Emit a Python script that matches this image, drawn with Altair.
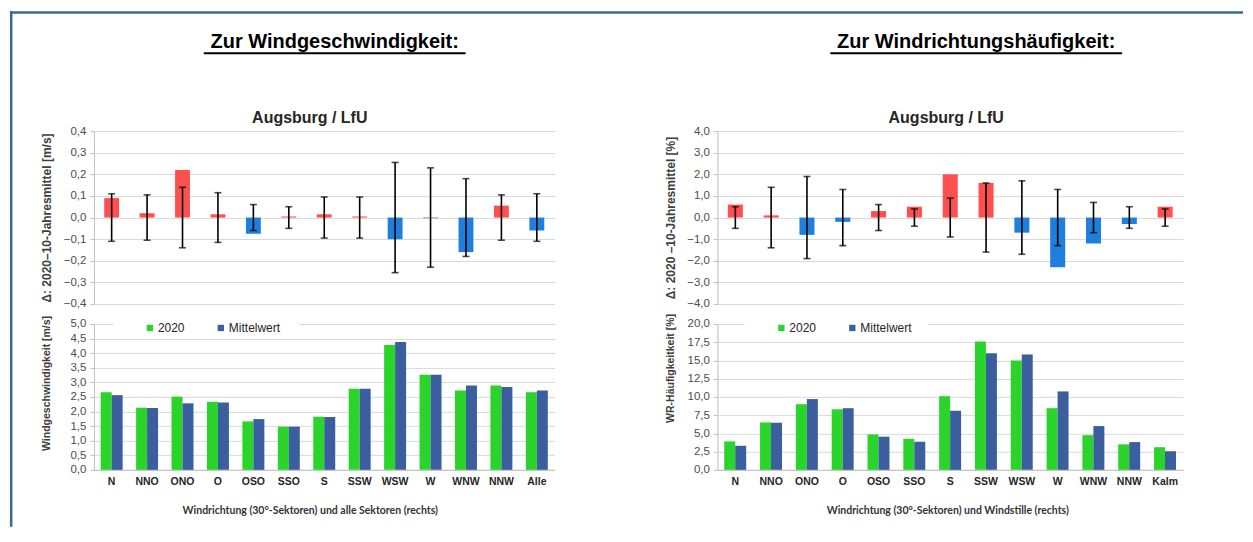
import altair as alt
import pandas as pd

# ---------------- data ----------------
cats_speed = ["N", "NNO", "ONO", "O", "OSO", "SSO", "S", "SSW", "WSW", "W", "WNW", "NNW", "Alle"]
cats_freq = ["N", "NNO", "ONO", "O", "OSO", "SSO", "S", "SSW", "WSW", "W", "WNW", "NNW", "Kalm"]

speed_delta = [0.09, 0.02, 0.22, 0.015, -0.075, 0.005, 0.015, 0.005, -0.10, -0.003, -0.16, 0.055, -0.06]
speed_err = [0.11, 0.105, 0.14, 0.115, 0.06, 0.05, 0.095, 0.095, 0.255, 0.23, 0.18, 0.105, 0.11]
speed_2020 = [2.66, 2.13, 2.51, 2.33, 1.66, 1.48, 1.82, 2.78, 4.28, 3.26, 2.72, 2.89, 2.66]
speed_mean = [2.56, 2.12, 2.28, 2.31, 1.74, 1.48, 1.81, 2.78, 4.38, 3.26, 2.89, 2.84, 2.72]

freq_delta = [0.6, 0.1, -0.8, -0.2, 0.3, 0.5, 2.0, 1.6, -0.7, -2.3, -1.2, -0.3, 0.5]
freq_err = [0.5, 1.4, 1.9, 1.3, 0.6, 0.4, 0.9, 1.6, 1.7, 1.3, 0.7, 0.5, 0.4]
freq_2020 = [3.9, 6.5, 9.0, 8.3, 4.85, 4.25, 10.1, 17.6, 15.0, 8.45, 4.75, 3.5, 3.1]
freq_mean = [3.3, 6.45, 9.7, 8.45, 4.55, 3.85, 8.1, 16.0, 15.8, 10.75, 6.0, 3.8, 2.55]

series = ["2020", "Mittelwert"]

speed_delta_ticks = [-0.4, -0.3, -0.2, -0.1, 0.0, 0.1, 0.2, 0.3, 0.4]
speed_ticks = [0.0, 0.5, 1.0, 1.5, 2.0, 2.5, 3.0, 3.5, 4.0, 4.5, 5.0]
freq_delta_ticks = [-4.0, -3.0, -2.0, -1.0, 0.0, 1.0, 2.0, 3.0, 4.0]
freq_ticks = [0.0, 2.5, 5.0, 7.5, 10.0, 12.5, 15.0, 17.5, 20.0]

# ---------------- style ----------------
FONT = "Liberation Sans"
RED = "#ff5050"
BLUE = "#1f7fdc"
GREEN = "#2bd42b"
NAVY = "#3b5e9e"
GRID = "#d9d9d9"
AXIS = "#bfbfbf"
LBL = "#4d4d4d"
TTL = "#404040"

W_L, W_R = 461, 466
H_TOP, H_BOT = 173, 146
LABEL_EXPR = "replace(format(datum.value, '.1f'), '.', ',')"


def y_axis(values, title, tsize, title_y, title_x=-47):
    return alt.Axis(
        values=values, labelExpr=LABEL_EXPR, title=title, grid=True,
        gridColor=GRID, gridWidth=1, domainColor=AXIS, tickColor=AXIS,
        tickSize=4, labelPadding=4, labelFont=FONT, labelFontSize=11.5,
        labelColor=LBL, titleFont=FONT, titleFontSize=tsize,
        titleFontWeight="bold", titleColor=TTL, titleX=title_x,
        titleY=title_y, titleBaseline="middle", titleAlign="center",
        titleAngle=270,
    )


def text_layer(txt, x, y, size, color="black"):
    return alt.Chart(pd.DataFrame({"t": [txt]})).mark_text(
        font=FONT, fontSize=size, fontWeight="bold", color=color,
        align="center", baseline="middle",
    ).encode(text="t:N", x=alt.value(x), y=alt.value(y))


def hline(x0, x1, y, color, width):
    return alt.Chart(pd.DataFrame({"a": [0]})).mark_rule(
        color=color, strokeWidth=width
    ).encode(x=alt.value(x0), x2=alt.value(x1), y=alt.value(y))


def vline(x, y0, y1, color, width):
    return alt.Chart(pd.DataFrame({"a": [0]})).mark_rule(
        color=color, strokeWidth=width
    ).encode(x=alt.value(x), y=alt.value(y0), y2=alt.value(y1))


def delta_chart(cats, delta, err, dom, ticks, ytitle, width, title_x, extra):
    df = pd.DataFrame({
        "cat": cats, "delta": delta,
        "lo": [-e for e in err], "hi": err,
    })
    x = alt.X("cat:N", sort=cats, axis=None,
              scale=alt.Scale(paddingInner=0.58, paddingOuter=0.29))
    ysc = alt.Scale(domain=dom, nice=False, zero=False)
    yax = y_axis(ticks, ytitle, 12, H_TOP / 2)
    base = alt.Chart(df)
    bars = base.mark_bar().encode(
        x=x,
        y=alt.Y("delta:Q", scale=ysc, axis=yax),
        color=alt.condition("datum.delta >= 0", alt.value(RED), alt.value(BLUE)),
    )
    rules = base.mark_rule(color="black", strokeWidth=1.6).encode(
        x=x, y=alt.Y("lo:Q", scale=ysc, axis=yax), y2="hi:Q")
    cap_hi = base.mark_tick(color="black", thickness=1.6, size=7).encode(
        x=x, y=alt.Y("hi:Q", scale=ysc, axis=yax))
    cap_lo = base.mark_tick(color="black", thickness=1.6, size=7).encode(
        x=x, y=alt.Y("lo:Q", scale=ysc, axis=yax))
    title = text_layer("Augsburg / LfU", title_x, -13, 16, "#262626")
    return alt.layer(*extra, title, bars, rules, cap_hi, cap_lo).properties(
        width=width, height=H_TOP)


def level_chart(cats, v2020, vmean, dom, ticks, ytitle, xtitle, width,
                title_y, xtitle_x, legend_x, mask):
    n = len(cats)
    df = pd.DataFrame({
        "cat": cats * 2,
        "series": [series[0]] * n + [series[1]] * n,
        "value": v2020 + vmean,
    })
    bars = alt.Chart(df).mark_bar().encode(
        x=alt.X("cat:N", sort=cats,
                scale=alt.Scale(paddingInner=0.38, paddingOuter=0.19),
                axis=alt.Axis(
                    title=xtitle, labelAngle=0, ticks=False, labelPadding=7,
                    labelFont=FONT, labelFontSize=10.5, labelFontWeight="bold",
                    labelColor="#262626", domainColor=AXIS,
                    titleFont="Lato", titleFontSize=10.5, titleFontWeight="bold",
                    titleColor="#333333", titleX=xtitle_x, titleY=41,
                    titleBaseline="middle", titleAlign="center")),
        xOffset=alt.XOffset("series:N", sort=series,
                            scale=alt.Scale(paddingInner=0, paddingOuter=0)),
        y=alt.Y("value:Q", scale=alt.Scale(domain=dom, nice=False),
                axis=y_axis(ticks, ytitle, 10.5, title_y)),
        color=alt.Color("series:N", sort=series,
                        scale=alt.Scale(domain=series, range=[GREEN, NAVY]),
                        legend=alt.Legend(
                            orient="none", legendX=legend_x, legendY=-2,
                            direction="horizontal", title=None,
                            symbolType="square", symbolSize=40,
                            symbolStrokeWidth=0, labelFont=FONT,
                            labelFontSize=12, labelColor="#262626",
                            labelOffset=2, columnPadding=30, padding=0)),
    )
    m = alt.Chart(pd.DataFrame({"a": [0]})).mark_rect(color="white").encode(
        x=alt.value(mask[0]), x2=alt.value(mask[1]),
        y=alt.value(-4), y2=alt.value(5))
    return alt.layer(m, bars).properties(width=width, height=H_BOT)


# decorative frame + headers (positions relative to the plot origin)
BORDER = "#3d6a86"
frame = [
    hline(-84, 1150, -118.8, BORDER, 2.5),
    vline(-82.8, -120, 396, BORDER, 2.5),
    text_layer("Zur Windgeschwindigkeit:", 241, -89, 20),
    hline(110, 372, -78, "black", 2),
]
head_r = [
    text_layer("Zur Windrichtungshäufigkeit:", 259, -89, 20),
    hline(113, 405, -78, "black", 2),
]

tl = delta_chart(cats_speed, speed_delta, speed_err, [-0.4, 0.4],
                 speed_delta_ticks, "Δ: 2020–10-Jahresmittel [m/s]", W_L, 216, frame)
tr = delta_chart(cats_freq, freq_delta, freq_err, [-4, 4],
                 freq_delta_ticks, "Δ: 2020 –10-Jahresmittel [%]", W_R, 229, head_r)
bl = level_chart(cats_speed, speed_2020, speed_mean, [0, 5], speed_ticks,
                 "Windgeschwindigkeit [m/s]",
                 "Windrichtung (30°-Sektoren) und alle Sektoren (rechts)",
                 W_L, 59, 216, 50, (20, 205))
br = level_chart(cats_freq, freq_2020, freq_mean, [0, 20], freq_ticks,
                 "WR-Häufigkeitkeit [%]",
                 "Windrichtung (30°-Sektoren) und Windstille (rechts)",
                 W_R, 44, 230, 58, (27, 211))

chart = alt.concat(
    tl, tr, bl, br, columns=2, bounds="flush", align="all",
    spacing={"row": 20, "column": 158},
).resolve_scale(color="independent").configure_view(
    stroke="transparent"
).properties(
    padding={"left": 0, "top": 1, "right": 0, "bottom": 0},
    background="white",
)

chart.save("out.html", embed_options={"renderer": "svg", "actions": False})
